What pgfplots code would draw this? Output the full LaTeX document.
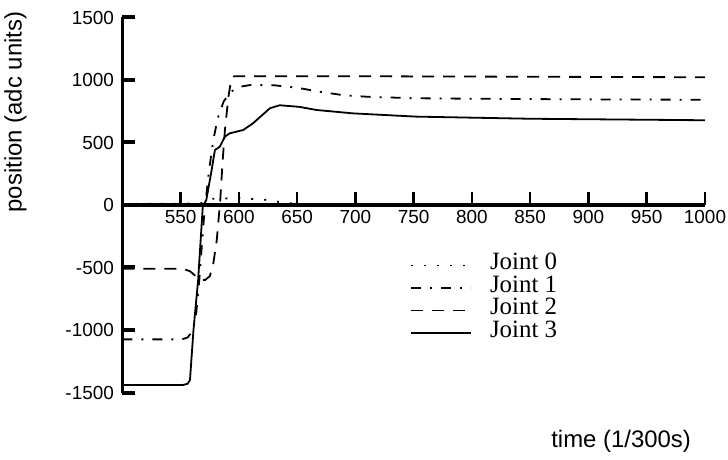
\documentclass[border=0pt]{standalone}
\usepackage{fontspec}
\setmainfont{Liberation Sans}
\newfontfamily\serifj{Liberation Serif}
\usepackage{pgfplots}
\pgfplotsset{compat=1.18}
\begin{document}
\begin{tikzpicture}
\begin{axis}[
  scale only axis,
  width=582.6bp, height=375bp,
  xmin=500, xmax=1000, ymin=-1500, ymax=1500,
  axis x line=middle, axis y line=left,
  x axis line style={-, line width=3.5bp},
  y axis line style={-, line width=3.5bp},
  xtick={550,600,...,1000},
  ytick={-1500,-1000,...,1500},
  hide obscured y ticks=false,
  hide obscured x ticks=false,
  tick align=inside,
  major tick length=13bp,
  xtick style={line width=2.5bp, black},
  ytick style={line width=4bp, black},
  minor tick num=0,
  /pgf/number format/assume math mode=true,
  /pgf/number format/set thousands separator={},
  tick label style={font=\fontsize{19}{21}\selectfont},
  xticklabel style={yshift=-2bp},
  yticklabel style={xshift=-5bp},
  xlabel={time (1/300s)},
  ylabel={position (adc units)},
  every axis x label/.style={at={(rel axis cs:0.856,0)}, anchor=center, yshift=-49bp, font=\fontsize{24}{26}\selectfont},
  every axis y label/.style={at={(rel axis cs:-0.1837,0.748)}, anchor=center, rotate=90, font=\fontsize{24}{26}\selectfont},
  legend style={at={(rel axis cs:0.4937,0.369)}, anchor=north west,
    draw=none, fill=none, inner sep=0pt,
    font=\serifj\fontsize{25}{22}\selectfont,
    row sep=0pt,
    nodes={inner ysep=0pt, text height=15.5bp, text depth=7bp}},
  legend cell align=left,
  legend image code/.code={\draw[#1] (0bp,0bp) -- (60bp,0bp); \path (76bp,0bp);},
  every axis plot/.append style={black, line width=1.8bp},
]
\coordinate (O) at (rel axis cs:0,0);
\addplot[dash pattern=on 2bp off 11bp] coordinates {
(500,10) (550,10) (565,12) (570,18) (576,50) (600,55) (625,40) (640,15) (660,6) (680,5) (1000,5)};
\addlegendentry{Joint 0}
\addplot[dash pattern=on 10bp off 9bp on 2bp off 9bp] coordinates {
(500,-1075) (551,-1075) (556,-1060) (560,-1010) (563,-900) (566,-600) (570,-100) (574,250) (578,520) (582,700) (587,830) (593,905) (600,945) (610,960) (630,958) (650,938) (670,905) (690,878) (710,866) (750,854) (800,850) (900,845) (1000,842)};
\addlegendentry{Joint 1}
\addplot[dash pattern=on 12bp off 9bp] coordinates {
(500,-510) (552,-510) (558,-530) (563,-570) (567,-600) (571,-600) (575,-570) (578,-470) (581,-280) (584,40) (586,350) (588,600) (591,866) (593.5,1010) (596,1030) (700,1030) (1000,1022)};
\addlegendentry{Joint 2}
\addplot[solid] coordinates {
(500,-1440) (552,-1440) (556,-1430) (558,-1400) (561,-1000) (565,-600) (569,-10) (572,40) (576.6,280) (579.4,440) (583.7,467) (588,547) (592,573) (603.7,600) (612,653) (626.6,774) (635,798) (652,785) (666.6,760) (698,733) (752,707) (850,690) (1000,678)};
\addlegendentry{Joint 3}
\end{axis}
\pgfresetboundingbox
\path[use as bounding box] ([shift={(-122.4bp,-67.5bp)}]O) rectangle ++(728bp,460bp);
\end{tikzpicture}
\end{document}
